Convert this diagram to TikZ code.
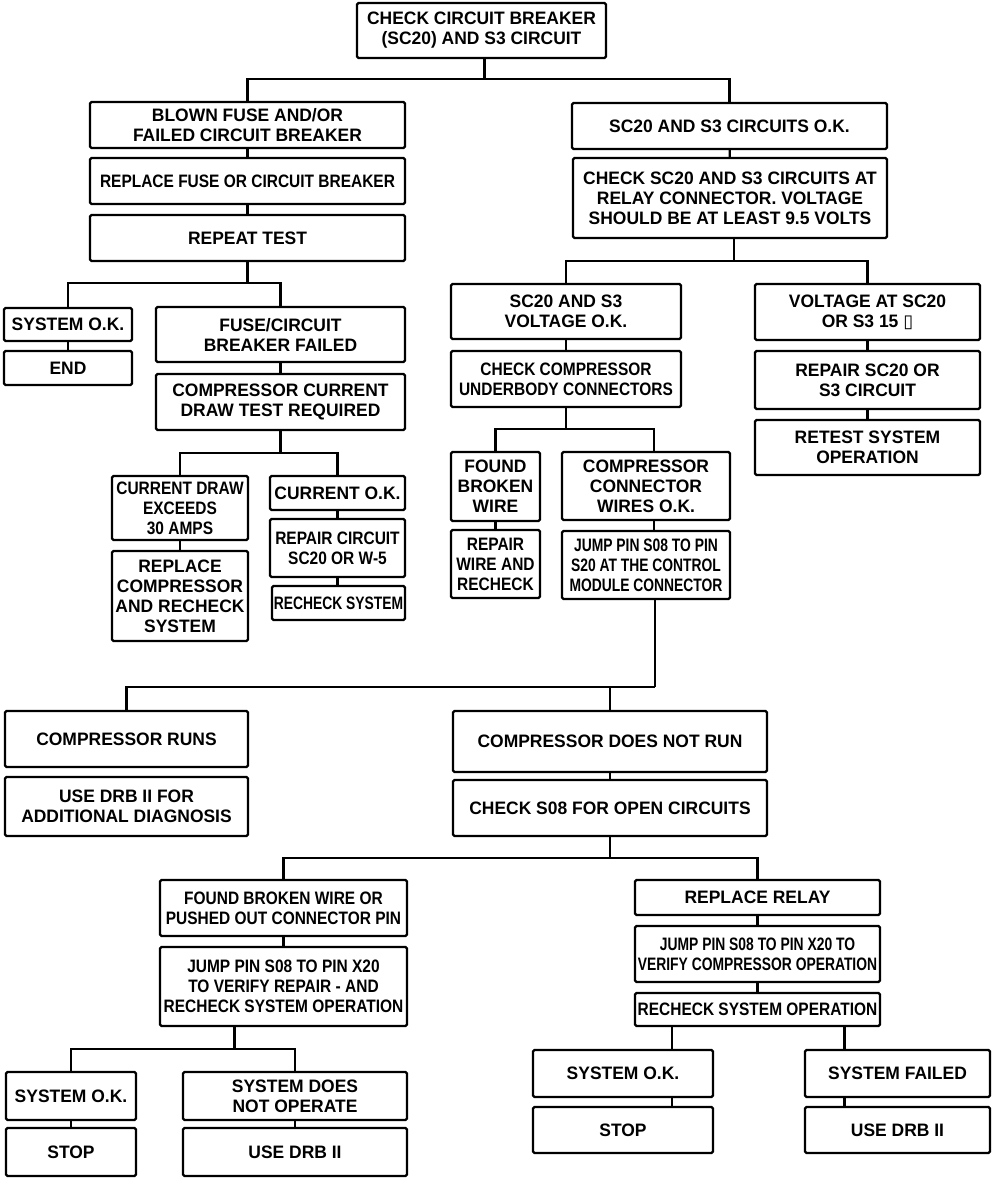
\documentclass[tikz,border=0pt]{standalone}
\usepackage{fontspec}
\setmainfont{Liberation Sans}[FakeStretch=0.97]
\newfontfamily\condfont{Liberation Sans}[FakeStretch=0.86]
\newfontfamily\xcondfont{Liberation Sans}[FakeStretch=0.77]
\newfontfamily\symfont{DejaVu Sans}

\begin{document}
\begin{tikzpicture}
    [
        x=1pt, y=-1pt,
        box/.style={draw, line width=2.4pt, rounded corners=1.5pt, align=center,
            inner sep=0pt, font=\fontsize{18}{20}\selectfont\bfseries},
        condbox/.style={box, font=\fontsize{18}{20}\selectfont\condfont\bfseries},
        xcondbox/.style={box, font=\fontsize{18}{20}\selectfont\xcondfont\bfseries},
        wire/.style={line width=2.2pt}
    ]
    \useasboundingbox[fill=white] (0,0) rectangle (1008,1178);

    % top of the chart
    \node[box, minimum width=249, minimum height=55] (check) at (481.5,30.5) {CHECK CIRCUIT BREAKER\\(SC20) AND S3 CIRCUIT};
    \node[box, minimum width=315, minimum height=46] (blown) at (247.5,125) {BLOWN FUSE AND/OR\\FAILED CIRCUIT BREAKER};
    \node[condbox, minimum width=315, minimum height=46] (repfuse) at (247.5,181) {REPLACE FUSE OR CIRCUIT BREAKER};
    \node[box, minimum width=315, minimum height=46] (repeat) at (247.5,238) {REPEAT TEST};
    \node[box, minimum width=315, minimum height=46] (circok) at (729.5,126) {SC20 AND S3 CIRCUITS O.K.};
    \node[box, minimum width=314, minimum height=80] (relay) at (730,198) {CHECK SC20 AND S3 CIRCUITS AT\\RELAY CONNECTOR. VOLTAGE\\SHOULD BE AT LEAST 9.5 VOLTS};

    % left branch
    \node[box, minimum width=128, minimum height=33] (sysok) at (68,324.5) {SYSTEM O.K.};
    \node[box, minimum width=128, minimum height=34] (end) at (68,368) {END};
    \node[box, minimum width=249, minimum height=55] (fusefail) at (280.5,334.5) {FUSE/CIRCUIT\\BREAKER FAILED};
    \node[box, minimum width=249, minimum height=56] (drawtest) at (280.5,402) {COMPRESSOR CURRENT\\DRAW TEST REQUIRED};
    \node[condbox, minimum width=136, minimum height=64] (exceeds) at (180,508) {CURRENT DRAW\\EXCEEDS\\30 AMPS};
    \node[box, minimum width=136, minimum height=90] (replcomp) at (180,596) {REPLACE\\COMPRESSOR\\AND RECHECK\\SYSTEM};
    \node[box, minimum width=135, minimum height=34] (currok) at (337.5,493) {CURRENT O.K.};
    \node[condbox, minimum width=135, minimum height=58] (repcirc) at (337.5,548) {REPAIR CIRCUIT\\SC20 OR W-5};
    \node[xcondbox, minimum width=133, minimum height=34] (recheck) at (338.5,603) {RECHECK SYSTEM};

    % middle branch
    \node[box, minimum width=230, minimum height=55] (voltok) at (566,311.5) {SC20 AND S3\\VOLTAGE O.K.};
    \node[condbox, minimum width=230, minimum height=56] (underbody) at (566,379) {CHECK COMPRESSOR\\UNDERBODY CONNECTORS};
    \node[box, minimum width=89, minimum height=69] (broken) at (495.5,486.5) {FOUND\\BROKEN\\WIRE};
    \node[condbox, minimum width=89, minimum height=68] (repwire) at (495.5,564) {REPAIR\\WIRE AND\\RECHECK};
    \node[box, minimum width=168, minimum height=68] (wiresok) at (646,486) {COMPRESSOR\\CONNECTOR\\WIRES O.K.};
    \node[xcondbox, minimum width=168, minimum height=68] (jumpctl) at (646,565) {JUMP PIN S08 TO PIN\\S20 AT THE CONTROL\\MODULE CONNECTOR};

    % right branch
    \node[box, minimum width=225, minimum height=56] (voltsc) at (867.5,312) {VOLTAGE AT SC20\\OR S3 15 {\symfont\char"25AF}};
    \node[box, minimum width=225, minimum height=58] (repsc) at (867.5,380) {REPAIR SC20 OR\\S3 CIRCUIT};
    \node[box, minimum width=225, minimum height=55] (retest) at (867.5,447.5) {RETEST SYSTEM\\OPERATION};

    % lower half
    \node[box, minimum width=243, minimum height=56] (runs) at (126.5,739) {COMPRESSOR RUNS};
    \node[box, minimum width=243, minimum height=59] (drbdiag) at (126.5,806.5) {USE DRB II FOR\\ADDITIONAL DIAGNOSIS};
    \node[box, minimum width=314, minimum height=61] (notrun) at (610,741.5) {COMPRESSOR DOES NOT RUN};
    \node[box, minimum width=314, minimum height=56] (opencirc) at (610,808) {CHECK S08 FOR OPEN CIRCUITS};
    \node[condbox, minimum width=247, minimum height=56] (pushed) at (283.5,908) {FOUND BROKEN WIRE OR\\PUSHED OUT CONNECTOR PIN};
    \node[condbox, minimum width=247, minimum height=79] (jumprep) at (283.5,986.5) {JUMP PIN S08 TO PIN X20\\TO VERIFY REPAIR - AND\\RECHECK SYSTEM OPERATION};
    \node[box, minimum width=130, minimum height=48] (sysokb) at (71,1096) {SYSTEM O.K.};
    \node[box, minimum width=130, minimum height=48] (stopa) at (71,1152) {STOP};
    \node[box, minimum width=224, minimum height=48] (notop) at (295,1096) {SYSTEM DOES\\NOT OPERATE};
    \node[box, minimum width=224, minimum height=48] (drba) at (295,1152) {USE DRB II};
    \node[box, minimum width=245, minimum height=35] (newrelay) at (757.5,897.5) {REPLACE RELAY};
    \node[xcondbox, minimum width=245, minimum height=56] (jumpver) at (757.5,954) {JUMP PIN S08 TO PIN X20 TO\\VERIFY COMPRESSOR OPERATION};
    \node[condbox, minimum width=245, minimum height=33] (recheckop) at (757.5,1009.5) {RECHECK SYSTEM OPERATION};
    \node[box, minimum width=180, minimum height=47] (sysokc) at (623,1073.5) {SYSTEM O.K.};
    \node[box, minimum width=180, minimum height=46] (stopb) at (623,1130) {STOP};
    \node[box, minimum width=185, minimum height=47] (failed) at (897.5,1073.5) {SYSTEM FAILED};
    \node[box, minimum width=185, minimum height=46] (drbb) at (897.5,1130) {USE DRB II};

    % connectors
    \draw[wire] ([xshift=3]check.south) -- ++(0,20) coordinate (j1);
    \draw[wire] (blown.north) |- (j1);
    \draw[wire] (circok.north) |- (j1);
    \draw[wire] (blown) -- (repfuse);
    \draw[wire] (repfuse) -- (repeat);
    \draw[wire] (circok) -- (relay);

    \draw[wire] (repeat.south) -- ++(0,21) coordinate (j2);
    \draw[wire] (sysok.north) |- (j2);
    \draw[wire] (fusefail.north) |- (j2);
    \draw[wire] (sysok) -- (end);
    \draw[wire] (fusefail) -- (drawtest);
    \draw[wire] (drawtest.south) -- ++(0,22) coordinate (j3);
    \draw[wire] (exceeds.north) |- (j3);
    \draw[wire] (currok.north) |- (j3);
    \draw[wire] (exceeds) -- (replcomp);
    \draw[wire] (currok) -- (repcirc);
    \draw[wire] (repcirc.south) -- (repcirc.south |- recheck.north);

    \draw[wire] ([xshift=4]relay.south) -- ++(0,22) coordinate (j4);
    \draw[wire] (voltok.north) |- (j4);
    \draw[wire] (voltsc.north) |- (j4);
    \draw[wire] (voltok) -- (underbody);
    \draw[wire] (voltsc) -- (repsc);
    \draw[wire] (repsc) -- (retest);
    \draw[wire] (underbody.south) -- ++(0,21) coordinate (j5);
    \draw[wire] (broken.north) |- (j5);
    \draw[wire] ([xshift=8]wiresok.north) |- (j5);
    \draw[wire] (broken) -- (repwire);
    \draw[wire] ([xshift=8]wiresok.south) -- ([xshift=8]jumpctl.north);

    \draw[wire] ([xshift=9]jumpctl.south) -- ++(0,87) coordinate (j6);
    \draw[wire] (runs.north) |- (j6);
    \draw[wire] (notrun.north) |- (j6);
    \draw[wire] (notrun) -- (opencirc);
    \draw[wire] (opencirc.south) -- ++(0,21) coordinate (j7);
    \draw[wire] (pushed.north) |- (j7);
    \draw[wire] (newrelay.north) |- (j7);
    \draw[wire] (pushed) -- (jumprep);
    \draw[wire] ([xshift=-49]jumprep.south) -- ++(0,22) coordinate (j8);
    \draw[wire] (sysokb.north) |- (j8);
    \draw[wire] (notop.north) |- (j8);
    \draw[wire] (sysokb) -- (stopa);
    \draw[wire] (notop) -- (drba);
    \draw[wire] (newrelay) -- (jumpver);
    \draw[wire] (jumpver) -- (recheckop);
    \draw[wire] ([xshift=49]sysokc.north) -- ([xshift=49]sysokc.north |- recheckop.south);
    \draw[wire] ([xshift=49]sysokc.south) -- ([xshift=49]stopb.north);
    \draw[wire] ([xshift=-53]failed.north) -- ([xshift=-53]failed.north |- recheckop.south);
    \draw[wire] ([xshift=-53]failed.south) -- ([xshift=-53]drbb.north);
\end{tikzpicture}
\end{document}
